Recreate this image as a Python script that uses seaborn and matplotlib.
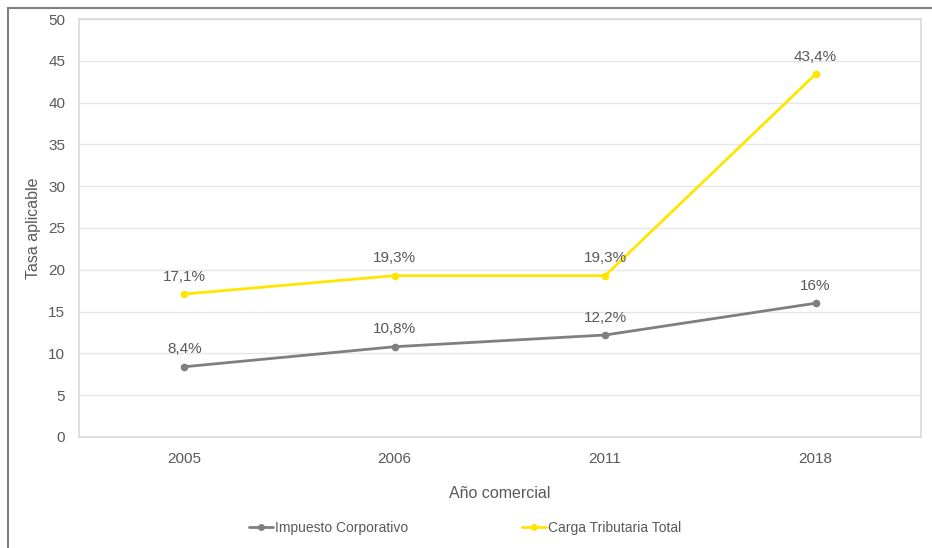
import matplotlib
matplotlib.use("Agg")
import matplotlib.pyplot as plt
from matplotlib.patches import Rectangle
from matplotlib.lines import Line2D
import seaborn as sns
import pandas as pd

years = ["2005", "2006", "2011", "2018"]
impuesto_corporativo = [8.4, 10.8, 12.2, 16.0]
carga_tributaria = [17.1, 19.3, 19.3, 43.4]
labels_corporativo = ["8,4%", "10,8%", "12,2%", "16%"]
labels_carga = ["17,1%", "19,3%", "19,3%", "43,4%"]
series_names = ["Impuesto Corporativo", "Carga Tributaria Total"]
colors = ["#7f7f7f", "#ffe600"]

sns.set_theme(style="white")
plt.rcParams["font.family"] = ["Liberation Sans", "DejaVu Sans"]

df = pd.DataFrame({
    "Año": years * 2,
    "Tasa": impuesto_corporativo + carga_tributaria,
    "Serie": [series_names[0]] * 4 + [series_names[1]] * 4,
})

fig = plt.figure(figsize=(9.32, 5.48), dpi=100)
ax = fig.add_axes([0.0848, 0.2026, 0.9032, 0.7627])

sns.lineplot(data=df, x="Año", y="Tasa", hue="Serie", palette=colors,
             marker="o", markersize=5.5, markeredgewidth=0, linewidth=2,
             legend=False, ax=ax)

text_color = "#595959"
for vals, labs in [(impuesto_corporativo, labels_corporativo), (carga_tributaria, labels_carga)]:
    for i, (v, t) in enumerate(zip(vals, labs)):
        ax.annotate(t, (i, v), xytext=(0, 7.5), textcoords="offset points",
                    ha="center", va="bottom", fontsize=11, color=text_color)

ax.set_xlim(-0.5, 3.5)
ax.set_ylim(0, 50)
ax.set_yticks(range(0, 51, 5))
ax.yaxis.grid(True, color="#e6e6e6", linewidth=1)
ax.set_axisbelow(True)
for s in ax.spines.values():
    s.set_color("#d9d9d9")
    s.set_linewidth(1.2)
ax.tick_params(axis="both", colors=text_color, labelsize=11, length=0)
ax.tick_params(axis="x", pad=11)
ax.tick_params(axis="y", pad=10)
ax.set_xlabel("Año comercial", fontsize=11.5, color=text_color, labelpad=14)
ax.set_ylabel("Tasa aplicable", fontsize=11.5, color=text_color, labelpad=5)

handles = [Line2D([], [], color=c, lw=2, marker="o", markersize=5, markeredgewidth=0)
           for c in colors]
fig.legend(handles, series_names, loc="center", bbox_to_anchor=(465 / 932, 0.036),
           ncol=2, frameon=False, fontsize=10, labelcolor=text_color,
           handlelength=1.75, handletextpad=0.1, columnspacing=8.2)

fig.add_artist(Rectangle((8 / 932, -0.1), 1.2, (548 - 8) / 548 + 0.1,
                         transform=fig.transFigure, fill=False,
                         edgecolor="#7f7f7f", linewidth=1.5))

fig.savefig("out.png", dpi=100, facecolor="white")
